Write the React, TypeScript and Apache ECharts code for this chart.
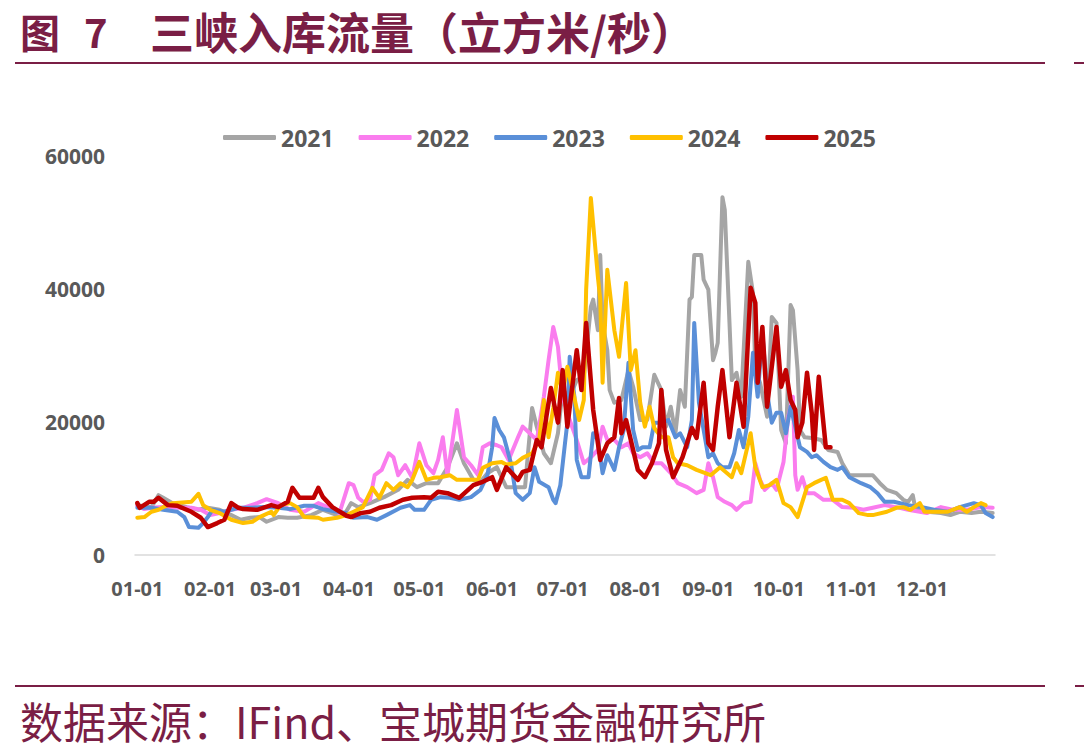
import React, { useEffect, useRef } from 'react';
import * as echarts from 'echarts';

// x = day of year (0 = 01-01), y = 入库流量 (立方米/秒)
const monthStarts = [0, 31, 59, 90, 120, 151, 181, 212, 243, 273, 304, 334];
const monthLabels = ['01-01', '02-01', '03-01', '04-01', '05-01', '06-01', '07-01', '08-01', '09-01', '10-01', '11-01', '12-01'];
const seriesNames = ['2021', '2022', '2023', '2024', '2025'];
const seriesColors = ['#A5A5A5', '#FA7CEE', '#5A8FD8', '#FFC000', '#C00000'];

const s2021: [number, number][] = [
  [0, 7500], [6, 7200], [9, 9000], [11, 8600], [15, 7800], [21, 7200], [26, 6800], [30, 7100], [35, 6800], [40, 6000],
  [44, 5300], [48, 5600], [52, 5700], [55, 5000], [60, 5700], [64, 5600], [68, 5600], [74, 6000], [79, 6800], [85, 6000],
  [88, 6000], [91, 7800], [94, 7200], [99, 7800], [105, 8700], [111, 9800], [115, 11300], [119, 10200], [123, 10800],
  [128, 10800], [132, 13200], [136, 16800], [139, 13800], [143, 11300], [146, 11000], [149, 12300], [153, 13200],
  [157, 10200], [162, 10200], [165, 10200], [166, 14300], [168, 22100], [170, 19300], [173, 15300], [176, 13800],
  [179, 18300], [181, 24800], [184, 23800], [187, 26300], [190, 26800], [193, 37300], [194, 38400], [196, 33800],
  [197, 45100], [198, 34900], [200, 30800], [201, 24800], [203, 22900], [206, 23300], [209, 27800], [211, 25300],
  [214, 20300], [217, 20300], [220, 27100], [223, 24800], [225, 19300], [227, 22300], [229, 18300], [231, 24800],
  [233, 22300], [235, 38400], [236, 38800], [237, 45100], [240, 45100], [241, 41400], [243, 39900], [245, 29300],
  [246, 30400], [247, 31900], [249, 53800], [250, 51900], [252, 34900], [253, 26300], [255, 27400], [257, 23800],
  [260, 44100], [262, 39400], [263, 27800], [265, 25900], [268, 20800], [270, 35800], [272, 34900], [274, 18800],
  [276, 16800], [278, 37600], [279, 36800], [281, 27800], [282, 18800], [284, 17700], [287, 17600], [291, 17300],
  [294, 15800], [298, 15500], [300, 13800], [303, 12000], [313, 12000], [316, 10800], [319, 9800], [323, 9300],
  [326, 8300], [328, 8000], [330, 9000], [331, 7200], [336, 6500], [342, 6300], [346, 6000], [350, 6500],
  [355, 6300], [359, 6500], [364, 6300],
];

const s2022: [number, number][] = [
  [0, 7400], [3, 6900], [6, 7100], [11, 7200], [17, 7100], [23, 7100], [27, 6800], [31, 6000], [35, 6300], [40, 6800],
  [45, 7100], [51, 7800], [55, 8400], [60, 7800], [65, 6800], [71, 6500], [77, 7800], [81, 7200], [86, 6300],
  [90, 10800], [92, 10500], [94, 8600], [96, 8000], [99, 8300], [101, 12000], [104, 12800], [107, 15300], [109, 14700],
  [111, 12000], [114, 13500], [117, 11600], [120, 16800], [123, 13500], [126, 12300], [128, 14300], [130, 17700],
  [132, 12000], [136, 21800], [139, 14700], [142, 13500], [145, 12000], [147, 16200], [150, 16800], [153, 16500],
  [155, 16200], [158, 14300], [162, 17700], [164, 19300], [167, 18300], [170, 17300], [173, 23800], [175, 29300],
  [177, 34300], [179, 31300], [181, 23800], [184, 20300], [187, 17300], [190, 13800], [193, 14700], [196, 15800],
  [198, 19300], [200, 17300], [203, 17300], [206, 16200], [209, 16800], [211, 15300], [214, 14700], [217, 15300],
  [220, 13800], [223, 13800], [227, 12300], [230, 10800], [234, 10200], [238, 9300], [241, 9800], [243, 13800],
  [245, 11700], [247, 8700], [250, 8000], [253, 7500], [255, 6800], [258, 7800], [261, 8000], [263, 13800],
  [265, 11300], [267, 9800], [270, 10800], [272, 9800], [275, 14000], [277, 20800], [279, 23800], [280, 12000],
  [281, 9800], [283, 11700], [285, 9300], [288, 9300], [292, 8300], [296, 8300], [300, 7200], [305, 7100],
  [309, 6800], [313, 7100], [318, 7500], [323, 7200], [328, 6800], [333, 6500], [336, 6300], [342, 7200],
  [347, 6800], [353, 6800], [359, 7200], [364, 7100],
];

const s2023: [number, number][] = [
  [0, 7100], [6, 7100], [11, 6800], [17, 6500], [20, 5700], [22, 4200], [26, 4100], [28, 4800], [30, 5700], [32, 6800],
  [37, 6500], [43, 7100], [48, 7100], [54, 7200], [60, 7100], [65, 6900], [71, 7400], [75, 7400], [79, 6900],
  [85, 6500], [89, 6300], [92, 5600], [98, 5700], [102, 5300], [106, 6000], [112, 7100], [116, 7500], [118, 6800],
  [122, 6800], [125, 8300], [129, 8700], [133, 8600], [137, 8300], [142, 8700], [146, 9800], [149, 12000],
  [151, 16200], [152, 20600], [154, 18800], [156, 17700], [159, 13800], [161, 9300], [164, 8300], [167, 9300],
  [169, 13200], [171, 11000], [175, 10200], [177, 8300], [178, 7800], [180, 10500], [182, 16800], [183, 19900],
  [184, 29800], [186, 23800], [187, 14300], [189, 11700], [192, 11700], [194, 18300], [196, 17300], [198, 12300],
  [200, 15000], [203, 12800], [205, 16200], [207, 18800], [209, 28900], [210, 23800], [211, 18800], [213, 15800],
  [215, 16200], [218, 16200], [220, 19900], [223, 19900], [226, 20300], [229, 17700], [231, 18300], [234, 16200],
  [236, 20300], [237, 34900], [239, 22900], [241, 18800], [243, 14700], [245, 15300], [247, 13800], [249, 13200],
  [252, 13200], [254, 15300], [256, 18800], [258, 16200], [260, 20800], [262, 30400], [264, 23800], [266, 33400],
  [268, 24400], [270, 19900], [272, 21400], [274, 21400], [276, 18300], [278, 22300], [280, 19300], [282, 16200],
  [285, 15500], [287, 14700], [289, 15000], [292, 14000], [295, 13200], [298, 12800], [300, 13200], [303, 11700],
  [308, 10800], [312, 10200], [315, 9300], [318, 8000], [322, 8000], [328, 7500], [334, 7200], [339, 6800],
  [345, 6500], [350, 7200], [356, 7800], [359, 7500], [361, 6300], [364, 5700],
];

const s2024: [number, number][] = [
  [0, 5600], [3, 5700], [6, 6500], [9, 6800], [11, 7200], [15, 7800], [23, 8000], [26, 9200], [28, 7500], [31, 6800],
  [35, 6300], [40, 5300], [45, 4800], [49, 5000], [52, 5700], [57, 6500], [58, 6000], [61, 7500], [65, 7800],
  [68, 7200], [71, 5700], [77, 5600], [79, 5300], [85, 5600], [89, 6000], [92, 6500], [96, 7200], [100, 10100],
  [103, 8600], [106, 10800], [109, 9800], [112, 10800], [115, 10200], [117, 11300], [120, 14000], [123, 11300],
  [126, 11600], [129, 11700], [133, 12000], [136, 11300], [140, 11300], [145, 11300], [147, 13100], [151, 13800],
  [155, 14000], [157, 13600], [161, 13800], [164, 14600], [168, 15300], [171, 17300], [173, 23300], [175, 17700],
  [177, 22100], [179, 27400], [181, 24400], [183, 28300], [185, 25300], [188, 20300], [190, 23300], [191, 39900],
  [193, 53700], [196, 41800], [197, 38400], [198, 25900], [200, 42900], [203, 33800], [205, 29800], [208, 40900],
  [210, 27800], [212, 30800], [214, 22900], [216, 19300], [218, 22300], [220, 19100], [223, 17700], [226, 17700],
  [228, 14700], [230, 13800], [234, 13500], [238, 12800], [244, 12000], [248, 13200], [251, 12300], [253, 11700],
  [255, 13800], [257, 12300], [261, 18300], [263, 13200], [266, 10200], [269, 10500], [272, 11300], [275, 7800],
  [278, 7200], [281, 5700], [285, 10200], [288, 10800], [291, 11300], [293, 11600], [296, 8300], [300, 8300],
  [303, 7800], [307, 6300], [311, 6000], [313, 6000], [319, 6500], [323, 7100], [326, 7200], [329, 6800],
  [333, 7800], [335, 6500], [339, 6500], [345, 6500], [347, 6800], [350, 7200], [353, 6500], [356, 7200],
  [359, 7800], [361, 7500],
];

const s2025: [number, number][] = [
  [0, 7800], [1, 7100], [5, 8000], [7, 8000], [9, 8600], [13, 7500], [17, 7400], [23, 6500], [27, 5600], [30, 4200],
  [34, 4800], [37, 5300], [40, 7800], [43, 7100], [45, 6900], [51, 6800], [57, 7500], [60, 7200], [64, 8000],
  [66, 10100], [69, 8600], [75, 8600], [77, 10100], [79, 8700], [83, 7200], [89, 5900], [91, 5700], [95, 6300],
  [99, 6500], [103, 7100], [108, 7500], [113, 8300], [117, 8600], [122, 8700], [125, 8600], [128, 9500], [132, 9300],
  [137, 8600], [143, 10500], [147, 11000], [151, 11700], [153, 9800], [157, 13200], [162, 11300], [164, 12500],
  [167, 12800], [170, 17300], [172, 16200], [176, 25100], [179, 19900], [181, 27800], [183, 19300], [187, 30800],
  [189, 24800], [191, 34900], [194, 21800], [197, 14300], [200, 16800], [203, 17700], [205, 23600], [206, 18300],
  [208, 20300], [211, 15800], [213, 12800], [216, 11700], [219, 13800], [222, 16800], [223, 24800], [225, 15800],
  [228, 11700], [232, 14700], [236, 19100], [238, 17600], [241, 25900], [243, 16800], [245, 15800], [247, 22300],
  [249, 27800], [252, 17700], [255, 25900], [258, 19300], [261, 40200], [263, 37900], [264, 25900], [266, 34300],
  [268, 22300], [272, 34300], [274, 25300], [276, 27800], [278, 23300], [280, 21800], [281, 17700], [283, 19900],
  [285, 27400], [287, 21400], [288, 15800], [290, 26800], [293, 16200], [295, 16200],
];

const seriesData = [s2021, s2022, s2023, s2024, s2025];

const MAROON = '#7A1E45';
const LABEL = '#595959';

export default function App() {
  const ref = useRef<HTMLDivElement>(null);
  useEffect(() => {
    if (!ref.current) return;
    const chart = echarts.init(ref.current, null, { renderer: 'svg' });
    chart.setOption({
      animation: false,
      backgroundColor: '#FFFFFF',
      grid: { left: 135, top: 156, width: 860, height: 399, containLabel: false },
      legend: {
        left: 218,
        top: 121,
        icon: 'roundRect',
        itemWidth: 53,
        itemHeight: 5,
        itemGap: 25,
        textStyle: { fontFamily: 'Open Sans', fontWeight: 'bold', fontSize: 23, color: LABEL },
        data: seriesNames,
      },
      xAxis: {
        type: 'value',
        min: -1,
        max: 365,
        axisLine: { show: true, lineStyle: { color: '#D9D9D9', width: 1.5 } },
        axisTick: { show: false },
        splitLine: { show: false },
        axisLabel: {
          customValues: monthStarts,
          formatter: (v: number) => {
            const i = monthStarts.indexOf(Math.round(v));
            return i >= 0 ? monthLabels[i] : '';
          },
          fontFamily: 'Open Sans',
          fontWeight: 'bold',
          fontSize: 20,
          color: LABEL,
          margin: 23,
        },
      },
      yAxis: {
        type: 'value',
        min: 0,
        max: 60000,
        interval: 20000,
        axisLine: { show: false },
        axisTick: { show: false },
        splitLine: { show: false },
        axisLabel: {
          formatter: (v: number) => String(v),
          fontFamily: 'Open Sans',
          fontWeight: 'bold',
          fontSize: 21,
          color: LABEL,
          margin: 30,
        },
      },
      series: seriesNames.map((name, i) => ({
        name,
        type: 'line',
        data: seriesData[i],
        showSymbol: false,
        symbol: 'none',
        color: seriesColors[i],
        lineStyle: { width: i === 4 ? 4.5 : 4, color: seriesColors[i], cap: 'round', join: 'round' },
        z: 2 + i,
      })),
      graphic: [
        {
          type: 'text',
          x: 20,
          y: 31,
          style: { text: '图', font: 'bold 40px "Noto Sans CJK SC"', fill: MAROON, textVerticalAlign: 'middle' },
        },
        {
          type: 'text',
          x: 84,
          y: 31,
          style: { text: '7', font: 'bold 40px "Noto Sans CJK SC"', fill: MAROON, textVerticalAlign: 'middle' },
        },
        {
          type: 'text',
          x: 150,
          y: 31,
          style: { text: '三峡入库流量（立方米/秒）', font: 'bold 44px "Noto Sans CJK SC"', fill: MAROON, textVerticalAlign: 'middle' },
        },
        {
          type: 'line',
          shape: { x1: 15, y1: 63, x2: 1045, y2: 63 },
          style: { stroke: MAROON, lineWidth: 2 },
        },
        {
          type: 'line',
          shape: { x1: 1074, y1: 63, x2: 1084, y2: 63 },
          style: { stroke: MAROON, lineWidth: 2 },
        },
        {
          type: 'line',
          shape: { x1: 15, y1: 686, x2: 1045, y2: 686 },
          style: { stroke: MAROON, lineWidth: 2 },
        },
        {
          type: 'line',
          shape: { x1: 1075, y1: 686, x2: 1084, y2: 686 },
          style: { stroke: MAROON, lineWidth: 2 },
        },
        {
          type: 'text',
          x: 20,
          y: 720,
          style: { text: '数据来源：IFind、宝城期货金融研究所', font: '43px "Noto Sans CJK SC"', fill: MAROON, textVerticalAlign: 'middle' },
        },
      ],
    });
    return () => chart.dispose();
  }, []);
  return (
    <div
      ref={ref}
      style={{ position: 'fixed', left: 0, top: 0, width: 1084, height: 756, background: '#fff' }}
    />
  );
}
